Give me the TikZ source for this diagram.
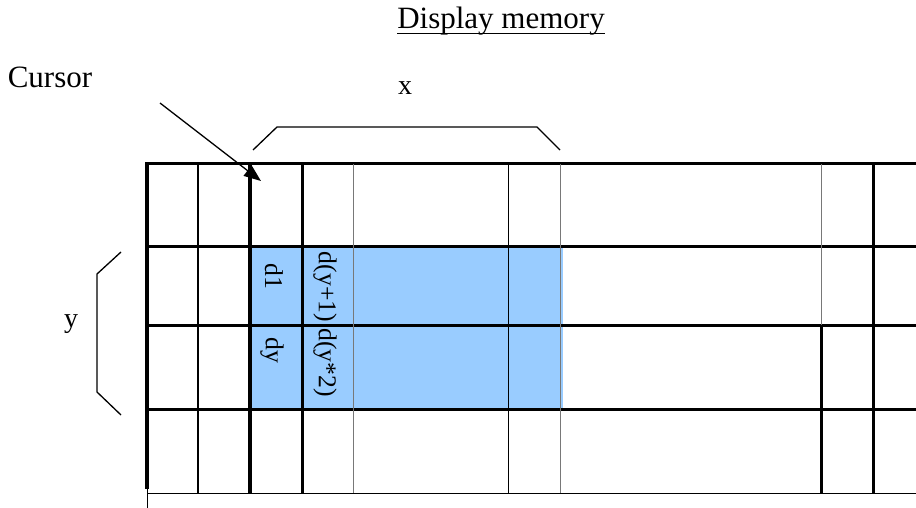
\documentclass[tikz,border=0pt]{standalone}
\usepackage{fontspec}
\setmainfont{Liberation Serif}
\usepackage{tikz}
\usetikzlibrary{arrows.meta, positioning, calc}
\definecolor{cellblue}{RGB}{153,204,255}
\definecolor{linegray}{RGB}{120,120,120}

\begin{document}
\begin{tikzpicture}[x=1pt,y=-1pt,
    heavy/.style={line width=3pt},
    medium/.style={line width=2.6pt},
    hair/.style={line width=1pt},
    grayhair/.style={line width=1pt,draw=linegray},
    bracket/.style={line width=1.3pt,line join=miter},
    bigtext/.style={font=\fontsize{31}{34}\selectfont,inner sep=0pt},
    axistext/.style={font=\fontsize{28}{30}\selectfont,inner sep=0pt},
    celltext/.style={font=\fontsize{25.7}{28}\selectfont,inner sep=0pt,rotate=-90}]
  \useasboundingbox (0,0) rectangle (916,508);

  % shaded block
  \fill[cellblue] (252,246) rectangle (563,409);

  % rows
  \foreach \r in {164,246,325,409}
    \draw[heavy] (145,\r) -- (916,\r);
  \draw[hair] (147,493) -- (916,493);
  \draw[hair] (147,489) -- (147,508);

  % columns
  \draw[line width=4.5pt] (147,162.5) -- (147,489);
  \draw[medium] (198,164) -- (198,493);
  \draw[line width=4pt] (250,164) -- (250,493);
  \draw[heavy] (302,164) -- (302,493);
  \draw[grayhair] (353,164) -- (353,493);
  \draw[hair] (508,164) -- (508,493);
  \draw[grayhair] (560,164) -- (560,493);
  \draw[grayhair] (821,164) -- (821,325);
  \draw[heavy] (821,325) -- (821,493);
  \draw[heavy] (873,164) -- (873,493);

  % labels
  \node[bigtext,anchor=base] (title) at (501,29) {Display memory};
  \draw[line width=1.5pt] ([yshift=-4.5pt]title.base west) -- ([yshift=-4.5pt]title.base east);
  \node[bigtext,anchor=base] (cursor) at (50,88) {Cursor};
  \node[axistext,anchor=base] (xlab) at (405,95) {x};
  \node[axistext,anchor=base] (ylab) at (71,327) {y};

  \node[celltext] (d1) at (274,276) {d1};
  \node[celltext] (dy) at (272,350) {dy};
  \node[celltext] (dnext) at (325,324.5) {d(y+1) d(y*2)};

  % cursor arrow
  \coordinate (tail) at (160,103);
  \coordinate (tip) at (261,181);
  \draw[line width=1.3pt,-{Triangle[length=17pt,width=13pt]}] (tail) -- (tip);

  % brackets
  \draw[bracket] (253,150) -- (277,127) -- (537,127) -- (560,150);
  \draw[bracket] (121,252) -- (97,274) -- (97,392) -- (121,415);
\end{tikzpicture}
\end{document}
